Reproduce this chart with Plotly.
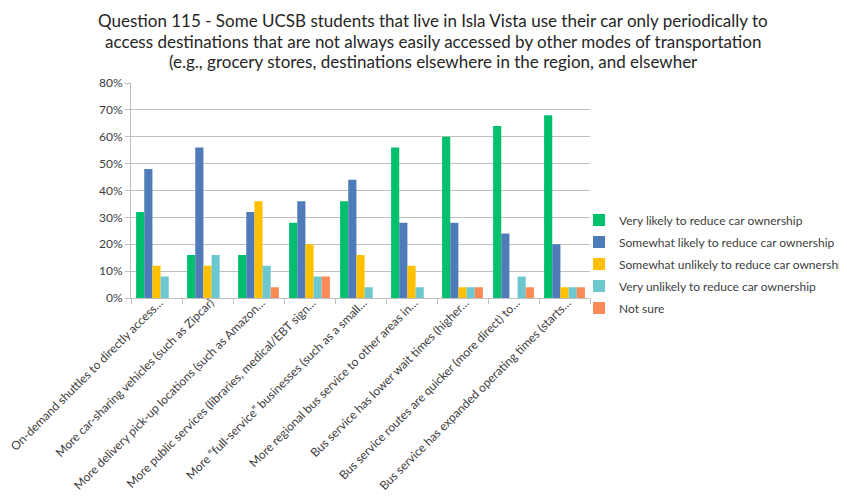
import plotly.graph_objects as go

categories = [
    "On-demand shuttles to directly access…",
    "More car-sharing vehicles (such as Zipcar)",
    "More delivery pick-up locations (such as Amazon…",
    "More public services (libraries, medical/EBT sign…",
    "More “full-service” businesses (such as a small…",
    "More regional bus service to other areas in…",
    "Bus service has lower wait times (higher…",
    "Bus service routes are quicker (more direct) to…",
    "Bus service has expanded operating times (starts…",
]
very_likely = [32, 16, 16, 28, 36, 56, 60, 64, 68]
somewhat_likely = [48, 56, 32, 36, 44, 28, 28, 24, 20]
somewhat_unlikely = [12, 12, 36, 20, 16, 12, 4, 0, 4]
very_unlikely = [8, 16, 12, 8, 4, 4, 4, 8, 4]
not_sure = [0, 0, 4, 8, 0, 0, 4, 4, 4]

series_names = [
    "Very likely to reduce car ownership",
    "Somewhat likely to reduce car ownership",
    "Somewhat unlikely to reduce car ownership",
    "Very unlikely to reduce car ownership",
    "Not sure",
]
series_values = [very_likely, somewhat_likely, somewhat_unlikely, very_unlikely, not_sure]
colors = ["#00C06E", "#4F7CB8", "#FFC000", "#6CC8CE", "#FF8A55"]

title_lines = [
    "Question 115 - Some UCSB students that live in Isla Vista use their car only periodically to",
    "access destinations that are not always easily accessed by other modes of transportation",
    "(e.g., grocery stores, destinations elsewhere in the region, and elsewher",
]

fig = go.Figure()
for i, (name, vals, col) in enumerate(zip(series_names, series_values, colors)):
    fig.add_trace(go.Bar(
        x=categories, y=[v / 100 for v in vals], name=name,
        marker=dict(color=col, line=dict(width=0)),
        legendgroup=str(i),
    ))

# page body has an 8px default margin: work in window pixels, offset by O
O = 8
W, H = 847 - O, 502 - O
L, R, T, B = 131 - O, 847 - 590, 83 - O, 502 - 298
PW, PH = W - L - R, H - T - B


def px_x(p):  # p in window pixels
    return (p - O - L) / PW


def px_y(p):
    return (H - B - (p - O)) / PH


title_centers = [21, 41.5, 62]
annotations = [dict(text=t, xref="paper", yref="paper", x=px_x(433), y=px_y(c),
                    xanchor="center", yanchor="middle", showarrow=False,
                    font=dict(size=17, color="#262626"))
               for t, c in zip(title_lines, title_centers)]

fig.update_layout(
    width=W, height=H,
    margin=dict(l=L, r=R, t=T, b=B, autoexpand=False),
    paper_bgcolor="white", plot_bgcolor="white",
    font=dict(family="Lato, Open Sans, sans-serif", color="#404040", size=12),
    barmode="group", bargap=0.2, bargroupgap=0,
    showlegend=True,
    legend=dict(x=px_x(579), xanchor="left", y=px_y(264), yanchor="middle",
                font=dict(size=12, color="#404040"), traceorder="grouped",
                tracegroupgap=3, itemwidth=30, bgcolor="rgba(0,0,0,0)"),
    xaxis=dict(tickangle=-45, showline=True, linecolor="#BFBFBF", linewidth=1,
               ticks="outside", tickson="boundaries", ticklen=5, tickcolor="#BFBFBF",
               tickfont=dict(size=12, color="#404040"), showgrid=False, automargin=False,
               ticklabelstandoff=-8, ticklabelshift=3),
    yaxis=dict(range=[0, 0.8], dtick=0.1, tickformat=".0%", showline=True,
               linecolor="#BFBFBF", linewidth=1, ticks="outside", ticklen=5,
               tickcolor="#BFBFBF", gridcolor="#BFBFBF", gridwidth=1,
               tickfont=dict(size=12, color="#404040"), zeroline=False, automargin=False),
    annotations=annotations,
)
fig.write_html("out.html")
